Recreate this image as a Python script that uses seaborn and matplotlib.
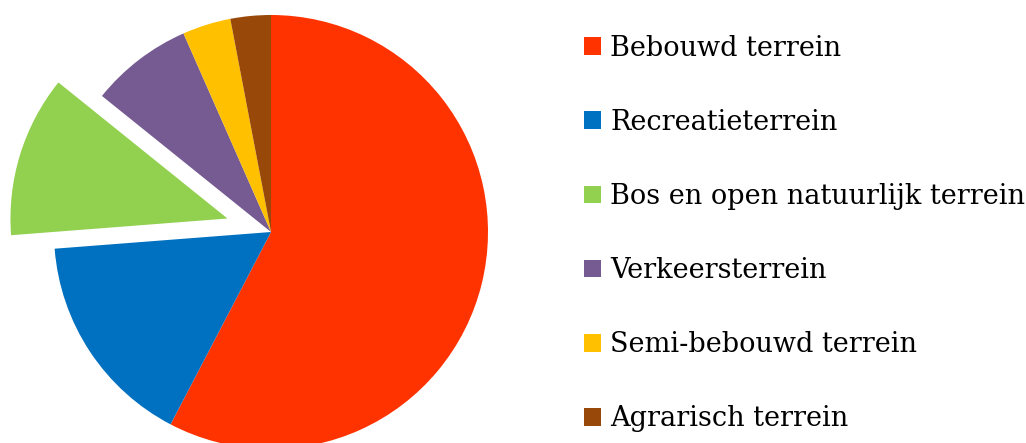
import matplotlib
matplotlib.use("Agg")
import matplotlib.pyplot as plt
import seaborn as sns

sns.set_style("white")
plt.rcParams['font.family'] = ['DejaVu Serif']
plt.rcParams['text.color'] = 'black'

# land use shares (percent), clockwise from 12 o'clock
labels = ["Bebouwd terrein", "Recreatieterrein", "Bos en open natuurlijk terrein",
          "Verkeersterrein", "Semi-bebouwd terrein", "Agrarisch terrein"]
shares = [57.6, 16.1, 12.0, 7.6, 3.6, 3.0]
explode = [0, 0, 0.21, 0, 0, 0]
colors = sns.color_palette(["#FF3300", "#0070C0", "#92D050", "#755B92", "#FFC000", "#984808"])

W, H = 1026, 443
fig = plt.figure(figsize=(W / 100, H / 100), dpi=100)

# pie axes: centre at (271, 232) px, radius 217 px
cx, cy, r = 271, 232, 217
ax = fig.add_axes([0, 0, 2 * cx / W, 1])
wedges, _ = ax.pie(shares, colors=colors, startangle=90, counterclock=False,
                   explode=explode, wedgeprops=dict(linewidth=0))
ax.set_aspect('auto')
ax.set_xlim(-cx / r, cx / r)
ax.set_ylim(-(H - cy) / r, cy / r)
ax.axis('off')

leg = fig.legend(wedges, labels, loc='center left', bbox_to_anchor=(584 / W, 1 - 233.5 / H),
                 frameon=False, fontsize=19.5, handlelength=0.63, handleheight=0.63,
                 handletextpad=0.33, labelspacing=1.74, borderpad=0, borderaxespad=0)
for t in leg.get_texts():
    t.set_color('black')

fig.savefig("out.png", dpi=100)
